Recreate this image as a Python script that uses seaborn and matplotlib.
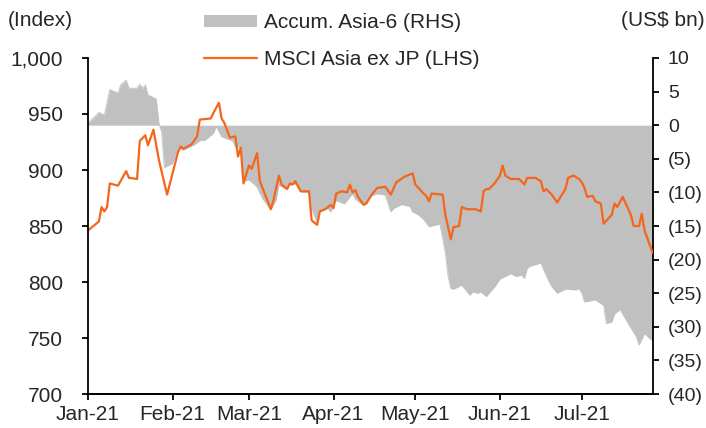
import matplotlib
matplotlib.use('Agg')
import matplotlib.pyplot as plt
import matplotlib.dates as mdates
import matplotlib.ticker as mticker
from matplotlib.patches import Patch
from matplotlib.lines import Line2D
import seaborn as sns
import pandas as pd

# MSCI Asia ex JP index (LHS)
msci_dates = [
    "2021-01-01", "2021-01-05", "2021-01-06", "2021-01-07", "2021-01-08", "2021-01-09",
    "2021-01-12", "2021-01-15", "2021-01-16", "2021-01-19", "2021-01-20", "2021-01-22",
    "2021-01-23", "2021-01-25", "2021-01-27", "2021-01-30", "2021-02-01", "2021-02-03",
    "2021-02-04", "2021-02-05", "2021-02-08", "2021-02-10", "2021-02-11", "2021-02-15",
    "2021-02-16", "2021-02-18", "2021-02-19", "2021-02-20", "2021-02-22", "2021-02-24",
    "2021-02-25", "2021-02-26", "2021-02-27", "2021-03-01", "2021-03-02", "2021-03-04",
    "2021-03-05", "2021-03-09", "2021-03-10", "2021-03-12", "2021-03-13", "2021-03-15",
    "2021-03-16", "2021-03-17", "2021-03-18", "2021-03-20", "2021-03-23", "2021-03-24",
    "2021-03-26", "2021-03-27", "2021-03-29", "2021-03-31", "2021-04-01", "2021-04-02",
    "2021-04-04", "2021-04-06", "2021-04-07", "2021-04-08", "2021-04-09", "2021-04-10",
    "2021-04-12", "2021-04-13", "2021-04-15", "2021-04-16", "2021-04-17", "2021-04-20",
    "2021-04-22", "2021-04-24", "2021-04-27", "2021-04-30", "2021-05-01", "2021-05-04",
    "2021-05-05", "2021-05-06", "2021-05-07", "2021-05-11", "2021-05-12", "2021-05-14",
    "2021-05-15", "2021-05-17", "2021-05-18", "2021-05-20", "2021-05-23", "2021-05-25",
    "2021-05-26", "2021-05-27", "2021-05-28", "2021-05-30", "2021-06-01", "2021-06-02",
    "2021-06-03", "2021-06-05", "2021-06-08", "2021-06-10", "2021-06-11", "2021-06-14",
    "2021-06-16", "2021-06-17", "2021-06-18", "2021-06-20", "2021-06-22", "2021-06-25",
    "2021-06-26", "2021-06-28", "2021-06-30", "2021-07-01", "2021-07-02", "2021-07-03",
    "2021-07-05", "2021-07-06", "2021-07-08", "2021-07-09", "2021-07-12", "2021-07-13",
    "2021-07-14", "2021-07-16", "2021-07-19", "2021-07-20", "2021-07-22", "2021-07-23",
    "2021-07-24", "2021-07-27",
]
msci_values = [
    846, 854, 867, 863, 867, 888,
    886, 899, 893, 892, 926, 931,
    922, 936, 909, 878, 897, 916,
    921, 919, 923, 930, 945, 946,
    951, 960, 946, 942, 929, 930,
    912, 920, 888, 904, 901, 915,
    890, 865, 873, 895, 887, 883,
    888, 887, 890, 881, 881, 855,
    851, 863, 865, 869, 866, 879,
    881, 880, 887, 880, 882, 876,
    869, 870, 878, 881, 884, 885,
    878, 889, 894, 897, 887, 879,
    877, 872, 879, 878, 860, 838,
    849, 850, 867, 865, 865, 863,
    881, 883, 883, 888, 895, 904,
    895, 892, 892, 887, 893, 893,
    890, 881, 883, 878, 871, 883,
    893, 895, 892, 889, 884, 876,
    877, 872, 870, 852, 860, 870,
    867, 876, 860, 850, 850, 861,
    846, 826,
]

# accumulated foreign flows into Asia-6 (RHS, US$ bn)
flow_dates = [
    "2021-01-01", "2021-01-05", "2021-01-07", "2021-01-09", "2021-01-12", "2021-01-13",
    "2021-01-15", "2021-01-16", "2021-01-19", "2021-01-20", "2021-01-21", "2021-01-22",
    "2021-01-23", "2021-01-26", "2021-01-27", "2021-01-28", "2021-01-29", "2021-02-01",
    "2021-02-03", "2021-02-05", "2021-02-09", "2021-02-11", "2021-02-13", "2021-02-16",
    "2021-02-17", "2021-02-19", "2021-02-22", "2021-02-23", "2021-02-24", "2021-02-26",
    "2021-02-27", "2021-03-01", "2021-03-04", "2021-03-06", "2021-03-09", "2021-03-11",
    "2021-03-12", "2021-03-14", "2021-03-16", "2021-03-18", "2021-03-20", "2021-03-23",
    "2021-03-24", "2021-03-26", "2021-03-27", "2021-03-30", "2021-03-31", "2021-04-02",
    "2021-04-05", "2021-04-08", "2021-04-09", "2021-04-12", "2021-04-15", "2021-04-17",
    "2021-04-20", "2021-04-22", "2021-04-23", "2021-04-26", "2021-04-29", "2021-04-30",
    "2021-05-02", "2021-05-04", "2021-05-06", "2021-05-07", "2021-05-10", "2021-05-12",
    "2021-05-13", "2021-05-14", "2021-05-15", "2021-05-18", "2021-05-21", "2021-05-22",
    "2021-05-24", "2021-05-25", "2021-05-27", "2021-05-30", "2021-06-01", "2021-06-05",
    "2021-06-07", "2021-06-09", "2021-06-10", "2021-06-11", "2021-06-12", "2021-06-16",
    "2021-06-17", "2021-06-19", "2021-06-20", "2021-06-22", "2021-06-25", "2021-06-29",
    "2021-06-30", "2021-07-01", "2021-07-02", "2021-07-06", "2021-07-09", "2021-07-10",
    "2021-07-12", "2021-07-13", "2021-07-15", "2021-07-18", "2021-07-21", "2021-07-22",
    "2021-07-24", "2021-07-26", "2021-07-27",
]
flow_values = [
    0.3, 1.9, 1.5, 5.3, 4.8, 6.0,
    6.7, 5.5, 5.5, 6.1, 5.5, 6.0,
    4.5, 3.9, 0.3, -1.0, -6.3, -5.7,
    -3.3, -3.7, -2.9, -2.3, -2.2, -1.2,
    -0.2, -1.7, -2.2, -2.3, -3.2, -3.3,
    -8.4, -8.1, -9.2, -10.9, -12.6, -11.1,
    -8.9, -9.4, -8.9, -8.7, -9.9, -10.0,
    -12.4, -14.6, -12.6, -12.4, -12.9, -11.2,
    -11.7, -10.2, -11.0, -11.9, -10.5, -10.2,
    -10.4, -12.9, -12.4, -11.8, -12.1, -12.9,
    -13.3, -14.0, -15.1, -15.0, -14.7, -19.0,
    -22.5, -24.3, -24.4, -23.8, -25.3, -24.8,
    -25.0, -24.8, -25.5, -24.1, -22.9, -22.1,
    -22.5, -22.3, -22.8, -21.3, -21.0, -20.5,
    -21.5, -23.3, -24.0, -25.0, -24.4, -24.5,
    -24.3, -25.0, -26.3, -26.0, -26.8, -29.5,
    -29.3, -28.1, -27.4, -29.5, -31.5, -32.7,
    -31.0, -31.8, -32.0,
]

left_ticks = [700, 750, 800, 850, 900, 950, 1000]
right_ticks = [-40, -35, -30, -25, -20, -15, -10, -5, 0, 5, 10]
month_ticks = ["2021-01-01", "2021-02-01", "2021-03-01", "2021-04-01",
               "2021-05-01", "2021-06-01", "2021-07-01"]
x_end = "2021-07-27"

msci = pd.DataFrame({"date": pd.to_datetime(msci_dates), "value": msci_values})
flows = pd.DataFrame({"date": pd.to_datetime(flow_dates), "value": flow_values})

sns.set_theme(style="white")
plt.rcParams['font.family'] = ['Liberation Sans', 'DejaVu Sans']
FS = 15
ORANGE = '#F4661B'
GREY = '#C0C0C0'

fig = plt.figure(figsize=(7.06, 4.28), dpi=100)
ax = fig.add_axes([0.1246, 0.0794, 0.7999, 0.7851])
ax2 = ax.twinx()

# grey area on the right axis
ax2.fill_between(flows["date"], 0, flows["value"], color=GREY, linewidth=0, zorder=1)
sns.lineplot(data=flows, x="date", y="value", ax=ax2, color=GREY, linewidth=0.6)

# orange index line on the left axis, drawn over the area
sns.lineplot(data=msci, x="date", y="value", ax=ax, color=ORANGE, linewidth=1.6)
ax.set_zorder(ax2.get_zorder() + 1)
ax.patch.set_visible(False)

ax.set_xlim(pd.Timestamp(month_ticks[0]), pd.Timestamp(x_end))
ax.set_ylim(700, 1000)
ax2.set_ylim(-40, 10)
ax.set_xticks(pd.to_datetime(month_ticks))
ax.xaxis.set_major_formatter(mdates.DateFormatter('%b-%y'))
ax.set_yticks(left_ticks)
ax.yaxis.set_major_formatter(mticker.FuncFormatter(lambda v, p: f"{v:,.0f}"))
ax2.set_yticks(right_ticks)
ax2.yaxis.set_major_formatter(
    mticker.FuncFormatter(lambda v, p: f"({abs(v):.0f})" if v < 0 else f"{v:.0f}"))

ax.set_xlabel("")
ax.set_ylabel("")
ax2.set_xlabel("")
ax2.set_ylabel("")

for a in (ax, ax2):
    for s in a.spines.values():
        s.set_color('black')
        s.set_linewidth(1.3)
    a.spines['top'].set_visible(False)
ax.spines['right'].set_visible(False)
ax2.spines['left'].set_visible(False)

ax.tick_params(axis='x', direction='out', length=4, width=1.3, color='black',
               labelsize=FS, pad=4, bottom=True)
ax.tick_params(axis='y', direction='out', length=4, width=1.3, color='black',
               labelsize=FS, pad=14, left=True)
ax2.tick_params(axis='y', direction='out', length=4, width=1.3, color='black',
                labelsize=14, pad=7, right=True)

fig.text(8 / 706, 1 - 20 / 428, "(Index)", fontsize=FS, ha='left', va='center')
fig.text(705 / 706, 1 - 20 / 428, "(US$ bn)", fontsize=FS, ha='right', va='center')

handles = [Patch(facecolor=GREY, edgecolor='none'),
           Line2D([0], [0], color=ORANGE, linewidth=1.6)]
labels = ["Accum. Asia-6 (RHS)", "MSCI Asia ex JP (LHS)"]
fig.legend(handles, labels, loc='upper left', bbox_to_anchor=(196 / 706, 1 - 5 / 428),
           frameon=False, fontsize=FS, handlelength=2.55, handleheight=0.5,
           handletextpad=0.3, labelspacing=0.85, borderaxespad=0)

fig.savefig("out.png", dpi=100)
